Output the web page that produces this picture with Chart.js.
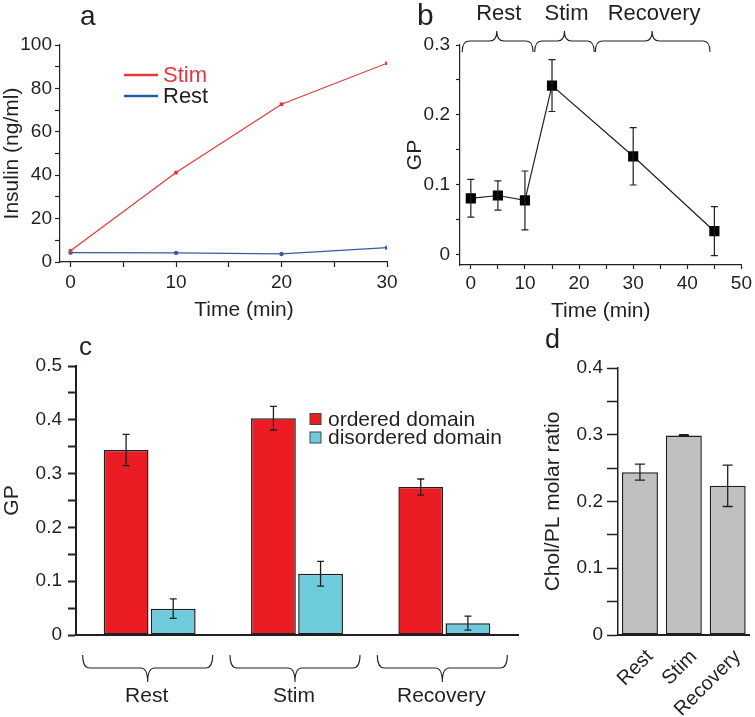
<!DOCTYPE html>
<html>
<head>
<meta charset="utf-8">
<script src="https://cdn.jsdelivr.net/npm/chart.js@4.4.0/dist/chart.umd.min.js"></script>
<style>
  body { margin: 0; background: #fff; }
  #wrap { position: relative; width: 755px; height: 717px; }
  #wrap canvas { position: absolute; left: 0; top: 0; }
</style>
</head>
<body>
<div id="wrap">
  <canvas id="chartA" width="755" height="717"></canvas>
  <canvas id="chartB" width="755" height="717"></canvas>
  <canvas id="chartC" width="755" height="717"></canvas>
  <canvas id="chartD" width="755" height="717"></canvas>
</div>
<script>
// ---- data ----
// a: insulin secretion
var insulinTimes = [0, 10, 20, 30]
var insulinStim = [5.2, 41.2, 72.7, 91.6]
var insulinRest = [4.3, 4.2, 3.7, 6.6]
var insulinTicksX = [0, 5, 10, 15, 20, 25, 30]
var insulinTicksY = [0, 10, 20, 30, 40, 50, 60, 70, 80, 90, 100]

// b: GP over time
var gpTimes = [0, 5, 10, 15, 30, 45]
var gpValues = [0.081, 0.085, 0.078, 0.242, 0.141, 0.034]
var gpErrors = [0.027, 0.021, 0.042, 0.037, 0.041, 0.035]
var gpTicksX = [0, 5, 10, 15, 20, 25, 30, 35, 40, 45, 50]
var gpTicksY = [0, 0.05, 0.1, 0.15, 0.2, 0.25, 0.3]
var phaseLabels = ['Rest', 'Stim', 'Recovery']
var phaseSpans = [[-1.6, 11.5], [11.8, 22.8], [23.0, 44.2]]
var phaseTips = [4.8, 17.3, 33.5]

// c: GP per domain
var orderedGP = [0.344, 0.403, 0.275]
var orderedErr = [0.029, 0.022, 0.015]
var disorderedGP = [0.049, 0.114, 0.022]
var disorderedErr = [0.018, 0.023, 0.013]
var domainTicksY = [0, 0.05, 0.1, 0.15, 0.2, 0.25, 0.3, 0.35, 0.4, 0.45, 0.5]

// d: cholesterol / phospholipid
var cholRatio = [0.244, 0.299, 0.2235]
var cholErr = [0.012, 0.001, 0.031]
var cholTicksY = [0, 0.05, 0.1, 0.15, 0.2, 0.25, 0.3, 0.35, 0.4]

var INK = '#231f20'
var FONT = "'Liberation Sans', Arial, sans-serif"
var RED = '#ec1c24'
var CYAN = '#6dcbdc'

Chart.defaults.font.family = FONT
Chart.defaults.color = INK
Chart.defaults.animation = false
Chart.defaults.responsive = false
Chart.defaults.devicePixelRatio = 1
Chart.defaults.plugins.legend.display = false
Chart.defaults.plugins.tooltip.enabled = false

function fixWidth(w) { return function(scale) { scale.width = w } }
function fixHeight(h) { return function(scale) { scale.height = h } }
function useTicks(list) {
  return function(scale) { scale.ticks = list.map(function(v) { return {value: v} }) }
}
function every(step) {
  return function(v) {
    var k = Math.round(v * 1000), s = Math.round(step * 1000)
    return k % s === 0 ? String(+v.toFixed(2)) : ''
  }
}
function toPoints(xs, ys) {
  return xs.map(function(x, i) { return {x: x, y: ys[i]} })
}

function letter(ctx, txt, x, y, size) {
  ctx.save()
  ctx.fillStyle = INK
  ctx.font = size + 'px ' + FONT
  ctx.textBaseline = 'alphabetic'
  ctx.fillText(txt, x, y)
  ctx.restore()
}

function brace(ctx, x1, x2, xm, yEnd, yBody, yTip) {
  var r = 7
  ctx.beginPath()
  ctx.moveTo(x1, yEnd)
  ctx.quadraticCurveTo(x1, yBody, x1 + r, yBody)
  ctx.lineTo(xm - r, yBody)
  ctx.quadraticCurveTo(xm, yBody, xm, yTip)
  ctx.quadraticCurveTo(xm, yBody, xm + r, yBody)
  ctx.lineTo(x2 - r, yBody)
  ctx.quadraticCurveTo(x2, yBody, x2, yEnd)
  ctx.stroke()
}

var errorBars = {
  id: 'errorBars',
  afterDatasetsDraw: function(chart, args, opts) {
    var ctx = chart.ctx, y = chart.scales.y
    chart.data.datasets.forEach(function(ds, di) {
      if (!ds.errors) return
      var meta = chart.getDatasetMeta(di)
      meta.data.forEach(function(el, i) {
        var v = ds.data[i]
        if (typeof v === 'object') v = v.y
        var top = y.getPixelForValue(v + ds.errors[i])
        var bot = y.getPixelForValue(v - ds.errors[i])
        ctx.save()
        ctx.strokeStyle = INK
        ctx.lineWidth = opts.width || 1.3
        ctx.beginPath()
        ctx.moveTo(el.x, top); ctx.lineTo(el.x, bot)
        ctx.moveTo(el.x - opts.cap, top); ctx.lineTo(el.x + opts.cap, top)
        ctx.moveTo(el.x - opts.cap, bot); ctx.lineTo(el.x + opts.cap, bot)
        ctx.stroke()
        ctx.restore()
      })
    })
  }
}

function axisStyle(tickLen, width) {
  return {
    grid: {drawOnChartArea: false, tickLength: tickLen, color: INK, tickWidth: width},
    border: {color: INK, width: width}
  }
}

// ---------- a ----------
var ax = axisStyle(5, 1.2), ay = axisStyle(5, 1.2)
new Chart(document.getElementById('chartA'), {
  type: 'line',
  data: {
    datasets: [
      {label: 'Stim', data: toPoints(insulinTimes, insulinStim), borderColor: '#e2383e', backgroundColor: '#e2383e',
       borderWidth: 1.2, pointStyle: 'rect', pointRadius: 2.6, pointBorderWidth: 0},
      {label: 'Rest', data: toPoints(insulinTimes, insulinRest), borderColor: '#3e58a4', backgroundColor: '#3e58a4',
       borderWidth: 1.2, pointStyle: 'circle', pointRadius: 2.2, pointBorderWidth: 0}
    ]
  },
  options: {
    layout: {padding: {left: 0, top: 45, right: 755 - 387, bottom: 717 - 262 - 60}},
    scales: {
      x: {type: 'linear', min: -1, max: 30, afterBuildTicks: useTicks(insulinTicksX), afterFit: fixHeight(60),
          grid: ax.grid, border: ax.border,
          ticks: {callback: every(10), font: {size: 19}, padding: 4, maxRotation: 0, autoSkip: false}},
      y: {min: 0, max: 100, afterBuildTicks: useTicks(insulinTicksY), afterFit: fixWidth(60),
          grid: ay.grid, border: ay.border,
          ticks: {callback: every(20), font: {size: 19}, padding: 3, autoSkip: false},
          title: {display: true, text: 'Insulin (ng/ml)', font: {size: 21}, padding: 0}}
    }
  },
  plugins: [{
    id: 'decoA',
    afterDraw: function(chart) {
      var ctx = chart.ctx
      letter(ctx, 'a', 80, 25, 28)
      // x title sits right of the axis centre in the original
      ctx.save()
      ctx.fillStyle = INK; ctx.font = '21px ' + FONT
      ctx.textAlign = 'center'; ctx.textBaseline = 'middle'
      ctx.fillText('Time (min)', 244, 310)
      ctx.restore()
      var rows = [['Stim', '#e2383e', '#e2383e', 75], ['Rest', '#1f5fa8', INK, 96]]
      rows.forEach(function(r) {
        ctx.save()
        ctx.strokeStyle = r[1]; ctx.lineWidth = 2.5
        ctx.beginPath(); ctx.moveTo(124, r[3]); ctx.lineTo(158, r[3]); ctx.stroke()
        ctx.fillStyle = r[2]; ctx.font = '22px ' + FONT; ctx.textBaseline = 'middle'
        ctx.fillText(r[0], 163, r[3] + 1)
        ctx.restore()
      })
    }
  }]
})

// ---------- b ----------
var bx = axisStyle(4, 1.2), by = axisStyle(4, 1.2)
new Chart(document.getElementById('chartB'), {
  type: 'line',
  data: {
    datasets: [{
      data: toPoints(gpTimes, gpValues), errors: gpErrors,
      borderColor: INK, backgroundColor: '#000', borderWidth: 1.2,
      pointStyle: 'rect', pointRadius: 7.2, pointBorderWidth: 0
    }]
  },
  options: {
    layout: {padding: {left: 403, top: 45, right: 755 - 743, bottom: 717 - 265 - 59}},
    plugins: {errorBars: {cap: 3.5, width: 1.2}},
    scales: {
      x: {type: 'linear', min: -2, max: 50, afterBuildTicks: useTicks(gpTicksX), afterFit: fixHeight(59),
          grid: bx.grid, border: bx.border,
          ticks: {callback: every(10), font: {size: 19}, padding: 3, maxRotation: 0, autoSkip: false},
          title: {display: true, text: 'Time (min)', font: {size: 21}, padding: 0}},
      y: {min: -0.0143, max: 0.3, afterBuildTicks: useTicks(gpTicksY), afterFit: fixWidth(57),
          grid: by.grid, border: by.border,
          ticks: {callback: every(0.1), font: {size: 19}, padding: 6, autoSkip: false},
          title: {display: true, text: 'GP', font: {size: 21}, padding: 0}}
    }
  },
  plugins: [errorBars, {
    id: 'decoB',
    afterDraw: function(chart) {
      var ctx = chart.ctx, x = chart.scales.x
      letter(ctx, 'b', 417, 25, 30)
      ctx.save()
      ctx.strokeStyle = INK; ctx.lineWidth = 1.1
      ctx.fillStyle = INK; ctx.font = '22px ' + FONT
      ctx.textAlign = 'center'; ctx.textBaseline = 'alphabetic'
      phaseSpans.forEach(function(s, i) {
        var xm = x.getPixelForValue(phaseTips[i])
        brace(ctx, x.getPixelForValue(s[0]), x.getPixelForValue(s[1]), xm, 52, 41, 31)
        ctx.fillText(phaseLabels[i], xm + 2, 20)
      })
      ctx.restore()
    }
  }]
})

// ---------- c ----------
var cx = axisStyle(0, 2), cy = axisStyle(8, 2)
new Chart(document.getElementById('chartC'), {
  type: 'bar',
  data: {
    labels: phaseLabels,
    datasets: [
      {label: 'ordered domain', data: orderedGP, errors: orderedErr, backgroundColor: RED,
       borderColor: INK, borderWidth: 1.5, borderSkipped: false, barPercentage: 0.95, categoryPercentage: 0.64},
      {label: 'disordered domain', data: disorderedGP, errors: disorderedErr, backgroundColor: CYAN,
       borderColor: INK, borderWidth: 1.5, borderSkipped: false, barPercentage: 0.95, categoryPercentage: 0.64}
    ]
  },
  options: {
    layout: {padding: {left: 0, top: 366, right: 755 - 518, bottom: 717 - 635 - 80}},
    plugins: {errorBars: {cap: 3.5, width: 1.3}},
    scales: {
      x: {afterFit: fixHeight(80),
          grid: {display: false, drawTicks: false}, border: cx.border,
          ticks: {font: {size: 21}, padding: 49, labelOffset: -3, maxRotation: 0, autoSkip: false}},
      y: {min: 0, max: 0.5, afterBuildTicks: useTicks(domainTicksY), afterFit: fixWidth(76),
          grid: cy.grid, border: cy.border,
          ticks: {callback: every(0.1), font: {size: 19}, padding: 6, autoSkip: false},
          title: {display: true, text: 'GP', font: {size: 21}, padding: 0}}
    }
  },
  plugins: [errorBars, {
    id: 'decoC',
    afterDraw: function(chart) {
      var ctx = chart.ctx, x = chart.scales.x
      letter(ctx, 'c', 79, 355, 26)
      ctx.save()
      ctx.strokeStyle = INK; ctx.lineWidth = 1.1
      phaseLabels.forEach(function(l, i) {
        var m = x.getPixelForValue(i) - 2
        brace(ctx, m - 65, m + 65, m, 655, 668, 682)
      })
      // legend
      ctx.font = '21px ' + FONT; ctx.textBaseline = 'middle'
      chart.data.datasets.forEach(function(ds, i) {
        var yy = 419 + i * 18.5
        ctx.fillStyle = ds.backgroundColor
        ctx.fillRect(310, yy - 5.5, 11, 11)
        ctx.lineWidth = 1; ctx.strokeStyle = '#444'
        ctx.strokeRect(310, yy - 5.5, 11, 11)
        ctx.fillStyle = INK
        ctx.fillText(ds.label, 328, yy + 1)
      })
      ctx.restore()
    }
  }]
})

// ---------- d ----------
var dx = axisStyle(0, 2), dy = axisStyle(11, 1.5)
new Chart(document.getElementById('chartD'), {
  type: 'bar',
  data: {
    labels: phaseLabels,
    datasets: [{
      data: cholRatio, errors: cholErr, backgroundColor: '#c0c0c0',
      borderColor: INK, borderWidth: 1.5, borderSkipped: false, barPercentage: 0.82, categoryPercentage: 1
    }]
  },
  options: {
    layout: {padding: {left: 541, top: 368, right: 2, bottom: 717 - 635 - 80}},
    plugins: {errorBars: {cap: 5, width: 1.3}},
    scales: {
      x: {afterFit: fixHeight(80),
          grid: {display: false, drawTicks: false}, border: dx.border,
          ticks: {font: {size: 20}, padding: 10, minRotation: 45, maxRotation: 45, labelOffset: 10, autoSkip: false}},
      y: {min: 0, max: 0.4, afterBuildTicks: useTicks(cholTicksY), afterFit: fixWidth(77),
          grid: dy.grid, border: dy.border,
          ticks: {callback: every(0.1), font: {size: 19}, padding: 4, autoSkip: false},
          title: {display: true, text: 'Chol/PL molar ratio', font: {size: 21}, padding: 0}}
    }
  },
  plugins: [errorBars, {
    id: 'decoD',
    afterDraw: function(chart) {
      letter(chart.ctx, 'd', 545, 348, 27)
    }
  }]
})
</script>
</body>
</html>
